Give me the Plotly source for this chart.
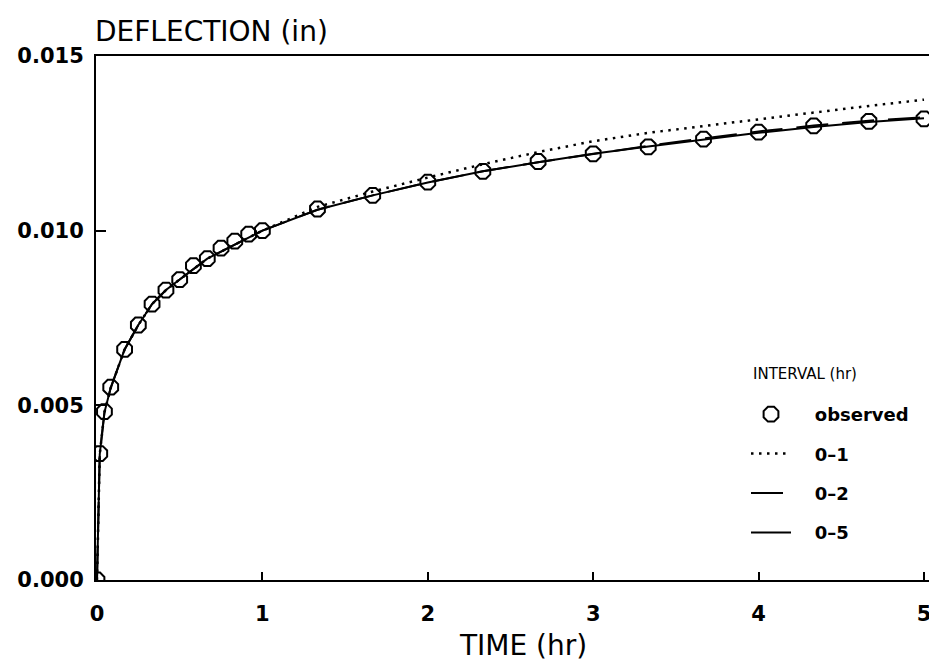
import plotly.graph_objects as go

# ---- data ----
t_obs = [0, 0.0167, 0.045, 0.083, 0.167, 0.25, 0.333, 0.417, 0.5, 0.583, 0.667, 0.75,
         0.833, 0.917, 1.0, 1.333, 1.667, 2.0, 2.333, 2.667, 3.0, 3.333, 3.667, 4.0,
         4.333, 4.667, 5.0]
d_obs = [0.0, 0.00362, 0.00482, 0.00552, 0.0066, 0.0073, 0.0079, 0.0083, 0.0086, 0.0090,
         0.0092, 0.0095, 0.0097, 0.0099, 0.0100, 0.01062, 0.01101, 0.01139, 0.0117,
         0.01198, 0.0122, 0.0124, 0.01262, 0.01282, 0.0130, 0.01313, 0.0132]

t_fit = [0, 0.0167, 0.045, 0.083, 0.167, 0.25, 0.333, 0.417, 0.5, 0.583, 0.667, 0.75,
         0.833, 0.917, 1.0, 1.333, 1.667, 2.0, 2.333, 2.667, 3.0, 3.333, 3.667, 4.0,
         4.333, 4.667, 5.0]
d_fit_01 = [0.0, 0.0036, 0.0048, 0.0055, 0.0066, 0.0073, 0.0079, 0.0083, 0.0086, 0.0089,
            0.0092, 0.0094, 0.0096, 0.0098, 0.0100, 0.01068, 0.01112, 0.01152, 0.01190,
            0.01225, 0.01256, 0.01280, 0.01300, 0.01319, 0.01338, 0.01357, 0.01375]
d_fit_02 = [0.0, 0.0036, 0.0048, 0.0055, 0.0066, 0.0073, 0.0079, 0.0083, 0.0086, 0.0089,
            0.0092, 0.0094, 0.0096, 0.0098, 0.0100, 0.01060, 0.01101, 0.01138, 0.01170,
            0.01196, 0.01220, 0.01243, 0.01264, 0.01284, 0.01301, 0.01315, 0.01325]
d_fit_05 = [0.0, 0.0036, 0.0048, 0.0055, 0.0066, 0.0073, 0.0079, 0.0083, 0.0086, 0.0089,
            0.0092, 0.0094, 0.0096, 0.0098, 0.0100, 0.01060, 0.01101, 0.01138, 0.01170,
            0.01196, 0.01220, 0.01241, 0.01261, 0.01280, 0.01297, 0.01311, 0.01322]

x_ticks = [0, 1, 2, 3, 4, 5]
x_tick_labels = ["0", "1", "2", "3", "4", "5"]
y_ticks = [0.0, 0.005, 0.010, 0.015]
y_tick_labels = ["0.000", "0.005", "0.010", "0.015"]

series_names = ["observed", "0\u20131", "0\u20132", "0\u20135"]
legend_heading = "INTERVAL (hr)"

FONT = "DejaVu Sans"
PAD = "\u00a0\u00a0\u00a0"  # gap between legend sample and label

fig = go.Figure()

fig.add_trace(go.Scatter(x=t_fit, y=d_fit_01, mode="lines", name=PAD + series_names[1],
                         line=dict(color="black", width=2.5, dash="2.5px,5.5px"),
                         legendgroup="g1", legendrank=2))
fig.add_trace(go.Scatter(x=t_fit, y=d_fit_02, mode="lines", name=PAD + series_names[2],
                         line=dict(color="black", width=2, dash="32px,14px"),
                         legendgroup="g2", legendrank=3))
fig.add_trace(go.Scatter(x=t_fit, y=d_fit_05, mode="lines", name=PAD + series_names[3],
                         line=dict(color="black", width=2),
                         legendgroup="g3", legendrank=4))
fig.add_trace(go.Scatter(x=t_obs, y=d_obs, mode="markers", name=PAD + series_names[0],
                         marker=dict(symbol="octagon-open", size=16, color="black",
                                     line=dict(width=2, color="black")),
                         legendgroup="g0", legendrank=1))

fig.update_layout(
    width=937, height=665,
    margin=dict(l=88, r=0, t=48, b=93),
    paper_bgcolor="white", plot_bgcolor="white",
    font=dict(family=FONT, color="black"),
    showlegend=True,
    legend=dict(
        x=(738 - 88) / 849, y=(572 - 388) / 524, xanchor="left", yanchor="top",
        font=dict(family=FONT, size=18, color="black", weight="bold"),
        traceorder="grouped", tracegroupgap=13, itemwidth=40,
        bgcolor="rgba(0,0,0,0)",
    ),
    xaxis=dict(
        range=[-0.006, 5.127], tickmode="array", tickvals=x_ticks, ticktext=x_tick_labels,
        ticks="inside", ticklen=8, tickwidth=2, tickcolor="black",
        showline=True, linewidth=2, linecolor="black", mirror=True,
        showgrid=False, zeroline=False, automargin=False,
        ticklabelstandoff=14,
        tickfont=dict(family=FONT, size=21, color="black", weight="bold"),
    ),
    yaxis=dict(
        range=[0, 0.015], tickmode="array", tickvals=y_ticks, ticktext=y_tick_labels,
        ticks="inside", ticklen=10, tickwidth=2, tickcolor="black",
        showline=True, linewidth=2, linecolor="black", mirror=False,
        showgrid=False, zeroline=False, automargin=False,
        ticklabelstandoff=6,
        tickfont=dict(family=FONT, size=21, color="black", weight="bold"),
    ),
    annotations=[
        dict(text="DEFLECTION (in)", xref="paper", yref="paper", x=-0.004, y=(572 - 23) / 524,
             xanchor="left", yanchor="middle", showarrow=False,
             font=dict(family=FONT, size=28, color="black")),
        dict(text="TIME (hr)", xref="paper", yref="paper", x=(515 - 88) / 849,
             y=(572 - 637) / 524, xanchor="center", yanchor="middle", showarrow=False,
             font=dict(family=FONT, size=28, color="black")),
        dict(text=legend_heading, xref="paper", yref="paper", x=(743 - 88) / 849,
             y=(572 - 366) / 524, xanchor="left", yanchor="middle", showarrow=False,
             font=dict(family=FONT, size=15, color="black")),
    ],
)

fig.write_html("out.html")
